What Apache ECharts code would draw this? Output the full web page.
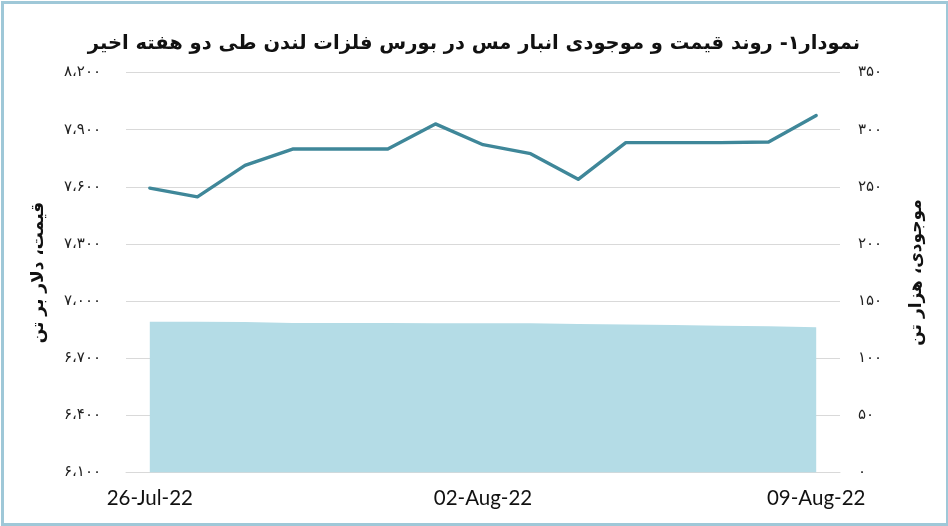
<!DOCTYPE html>
<html>
<head>
<meta charset="utf-8">
<script src="https://cdn.jsdelivr.net/npm/echarts@6/dist/echarts.min.js"></script>
<style>
html,body{margin:0;padding:0;background:#fff;}
#chart{width:948px;height:526px;}
</style>
</head>
<body>
<div id="chart"></div>
<script>
var categories = ['26-Jul-22','27-Jul-22','28-Jul-22','29-Jul-22','30-Jul-22','31-Jul-22','01-Aug-22','02-Aug-22','03-Aug-22','04-Aug-22','05-Aug-22','06-Aug-22','07-Aug-22','08-Aug-22','09-Aug-22'];
var priceValues = [7593, 7547, 7712, 7798, 7798, 7798, 7930, 7821, 7774, 7639, 7832, 7832, 7832, 7835, 7974];
var stockValues = [131.8, 131.8, 131.6, 130.9, 130.8, 130.8, 130.7, 130.7, 130.5, 130.0, 129.5, 129.0, 128.5, 128.0, 127.2];
var titleText = 'نمودار۱- روند قیمت و موجودی انبار مس در بورس فلزات لندن طی دو هفته اخیر';
var leftAxisName = 'قیمت، دلار بر تن';
var rightAxisName = 'موجودی، هزار تن';

var faDigits = ['۰','۱','۲','۳','۴','۵','۶','۷','۸','۹'];
function toFa(v, sep) {
  var s = String(Math.round(v));
  if (sep && s.length > 3) s = s.slice(0, s.length - 3) + '،' + s.slice(s.length - 3);
  return s.replace(/[0-9]/g, function (d) { return faDigits[+d]; });
}

var chart = echarts.init(document.getElementById('chart'), null, {renderer: 'canvas'});
chart.setOption({
  animation: false,
  backgroundColor: '#ffffff',
  title: {
    text: titleText,
    left: 'center',
    top: 29,
    textStyle: {fontFamily: 'DejaVu Sans', fontWeight: 'bold', fontSize: 19.5, color: '#111'}
  },
  graphic: [{
    type: 'rect', left: 0, top: 0, z: 100, silent: true,
    shape: {x: 1.5, y: 1.5, width: 945, height: 522},
    style: {fill: 'none', stroke: '#9fc8d8', lineWidth: 3}
  }],
  grid: {left: 126, right: 108, top: 72.5, bottom: 53.5, containLabel: false, outerBoundsMode: 'none'},
  xAxis: {
    type: 'category',
    data: categories,
    boundaryGap: true,
    axisLine: {show: true, lineStyle: {color: '#d9d9d9', width: 1}},
    axisTick: {show: false},
    axisLabel: {
      interval: 6, margin: 15, color: '#111',
      fontFamily: 'Lato', fontSize: 20.5
    },
    splitLine: {show: false}
  },
  yAxis: [{
    type: 'value', position: 'left',
    min: 6100, max: 8200, interval: 300,
    name: leftAxisName, nameLocation: 'middle', nameGap: 79, nameRotate: 90,
    nameTextStyle: {fontFamily: 'DejaVu Sans', fontWeight: 'bold', fontSize: 17, color: '#111'},
    axisLine: {show: false}, axisTick: {show: false},
    axisLabel: {margin: 25, color: '#222', fontFamily: 'DejaVu Sans', fontSize: 15,
      formatter: function (v) { return toFa(v, true); }},
    splitLine: {show: true, lineStyle: {color: '#d9d9d9', width: 1}}
  }, {
    type: 'value', position: 'right',
    min: 0, max: 350, interval: 50,
    name: rightAxisName, nameLocation: 'middle', nameGap: 68, nameRotate: 90,
    nameTextStyle: {fontFamily: 'DejaVu Sans', fontWeight: 'bold', fontSize: 17, color: '#111'},
    axisLine: {show: false}, axisTick: {show: false},
    axisLabel: {margin: 18, color: '#222', fontFamily: 'DejaVu Sans', fontSize: 15,
      formatter: function (v) { return toFa(v, false); }},
    splitLine: {show: false}
  }],
  series: [{
    name: 'stock', type: 'line', yAxisIndex: 1,
    data: stockValues, symbol: 'none', z: 1,
    lineStyle: {width: 0}, areaStyle: {color: '#b4dce6', opacity: 1}
  }, {
    name: 'price', type: 'line', yAxisIndex: 0,
    data: priceValues, symbol: 'none', z: 3,
    lineStyle: {width: 3.4, color: '#3f8799', join: 'round', cap: 'round'}
  }]
});
</script>
</body>
</html>
